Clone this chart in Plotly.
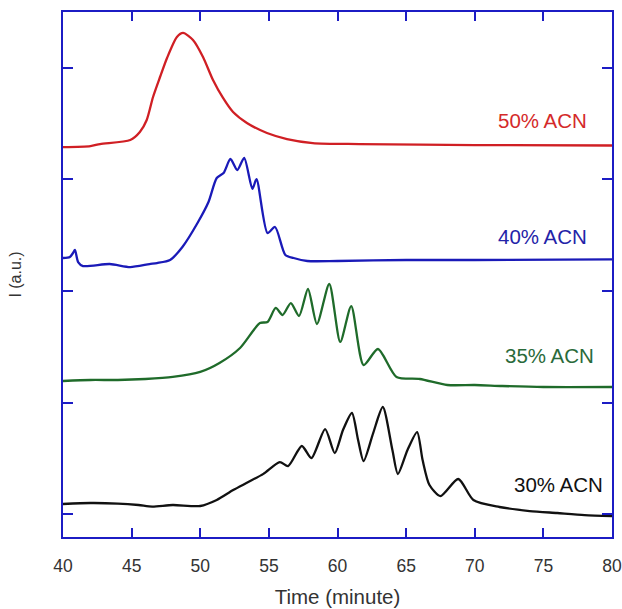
import plotly.graph_objects as go

# 30% ACN (black)
t30 = [40, 42, 44, 45.5, 46.5, 48, 50, 51.2, 52.4, 53.5, 54.6, 55.8, 56.4, 57.4, 58.1, 59.1, 59.8,
       60.4, 61.05, 61.5, 61.9, 62.6, 63.3, 64.0, 64.4, 65.1, 65.8, 66.2, 66.7, 67.5, 68.8, 69.9,
       71.8, 74, 76, 78, 80]
i30 = [0.090, 0.099, 0.094, 0.081, 0.067, 0.081, 0.072, 0.126, 0.215, 0.287, 0.360, 0.466, 0.430,
       0.610, 0.502, 0.762, 0.547, 0.753, 0.906, 0.664, 0.475, 0.726, 0.960, 0.574, 0.359, 0.574,
       0.735, 0.484, 0.260, 0.161, 0.314, 0.126, 0.063, 0.027, 0.009, -0.009, -0.018]

# 35% ACN (green)
t35 = [40, 42, 44, 46, 48, 50, 51.4, 52.9, 54.35, 54.9, 55.5, 56.0, 56.6, 57.2, 57.85, 58.5, 59.4,
       60.2, 61.0, 61.9, 62.95, 64.3, 66.0, 68.0, 70, 72, 75, 80]
i35 = [1.193, 1.202, 1.202, 1.211, 1.229, 1.274, 1.354, 1.489, 1.713, 1.722, 1.848, 1.785, 1.892,
       1.776, 2.018, 1.704, 2.063, 1.543, 1.865, 1.336, 1.480, 1.229, 1.211, 1.157, 1.157, 1.148,
       1.139, 1.139]

# 40% ACN (blue)
t40 = [40, 40.5, 40.73, 40.87, 41.1, 41.46, 43.4, 44.9, 46.3, 46.85, 47.8, 48.7, 49.8, 50.6, 51.2,
       51.7, 52.2, 52.7, 53.2, 53.8, 54.1, 54.9, 55.45, 56.2, 56.8, 57.8, 60, 65, 70, 80]
i40 = [2.296, 2.305, 2.341, 2.368, 2.260, 2.224, 2.242, 2.215, 2.242, 2.251, 2.278, 2.395, 2.610,
       2.798, 3.013, 3.058, 3.184, 3.085, 3.193, 2.915, 3.004, 2.520, 2.574, 2.323, 2.296, 2.269,
       2.269, 2.278, 2.278, 2.283]

# 50% ACN (red)
t50 = [40, 42, 42.7, 44.9, 45.6, 46.1, 46.56, 47.07, 47.58, 48.3, 48.75, 49.47, 50.2, 50.93, 51.66,
       52.39, 53.4, 54.86, 56.32, 58.2, 61.6, 70, 80]
i50 = [3.291, 3.300, 3.318, 3.354, 3.426, 3.534, 3.740, 3.919, 4.090, 4.278, 4.314, 4.251, 4.099,
       3.892, 3.731, 3.605, 3.507, 3.417, 3.363, 3.327, 3.318, 3.309, 3.305]

labels = ["30% ACN", "35% ACN", "40% ACN", "50% ACN"]
label_x = [76.07, 75.45, 74.94, 74.97]
label_y = [0.265, 1.426, 2.493, 3.529]
colors = ["#111111", "#1f6b2a", "#1a1ab8", "#d01f24"]
text_colors = ["#111111", "#2a6a3a", "#2323a8", "#d42a2a"]

x_ticks = [40, 45, 50, 55, 60, 65, 70, 75, 80]
y_ticks = [0, 1, 2, 3, 4]

axis_col = "#1c1cc4"

fig = go.Figure()
for t, v, c in zip([t30, t35, t40, t50], [i30, i35, i40, i50], colors):
    fig.add_trace(go.Scatter(x=t, y=v, mode="lines",
                             line=dict(color=c, width=2.3, shape="spline", smoothing=0.7),
                             showlegend=False, hoverinfo="skip"))

for lab, lx, ly, tc in zip(labels, label_x, label_y, text_colors):
    fig.add_annotation(x=lx, y=ly, text=lab, showarrow=False, xanchor="center", yanchor="middle",
                       font=dict(family="Liberation Sans, Arial", size=20.5, color=tc))

fig.update_layout(
    width=622, height=609,
    margin=dict(l=63, r=10, t=12, b=72, autoexpand=False),
    paper_bgcolor="white", plot_bgcolor="white",
    font=dict(family="Liberation Sans, Arial", color="#333333"),
)
fig.update_xaxes(range=[40, 80], tickvals=x_ticks, ticks="inside", ticklen=9, tickwidth=2,
                 tickcolor=axis_col, showline=True, linecolor=axis_col, linewidth=2, mirror="allticks",
                 showgrid=False, zeroline=False, tickfont=dict(size=17.5, color="#333333"),
                 ticklabelstandoff=12, automargin=False,
                 title=dict(text="Time (minute)", font=dict(size=20.5, color="#333333"), standoff=15))
fig.update_yaxes(range=[-0.206, 4.502], tickvals=y_ticks, showticklabels=False, ticks="inside",
                 ticklen=10, tickwidth=2, tickcolor=axis_col, showline=True, linecolor=axis_col,
                 linewidth=2, mirror="allticks", showgrid=False, zeroline=False, automargin=False,
                 title=dict(text="I (a.u.)", font=dict(size=16, color="#333333"), standoff=35))

fig.write_html("out.html")
